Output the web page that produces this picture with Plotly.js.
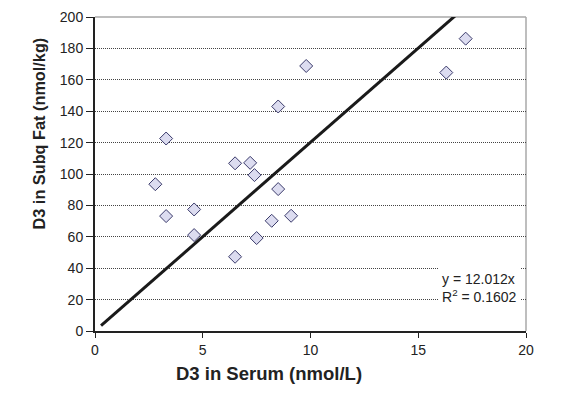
<!DOCTYPE html>
<html>
<head>
<meta charset="utf-8">
<script src="https://cdn.plot.ly/plotly-3.0.1.min.js"></script>
<style>html,body{margin:0;padding:0;background:#fff;}#chart{width:565px;height:396px;}</style>
</head>
<body>
<div id="chart"></div>
<script>
// Data
const serumD3 = [2.8, 3.3, 3.3, 4.6, 4.6, 6.5, 6.5, 7.2, 7.4, 7.5, 8.5, 8.5, 8.2, 9.1, 9.8, 16.3, 17.2];
const fatD3   = [93.5, 122.6, 73.2, 77.4, 61.1, 106.8, 47.3, 107.1, 99.3, 59.2, 143.0, 90.4, 70.2, 73.4, 168.8, 164.6, 186.2];
const trendSlope = 12.012;
const trendR2 = 0.1602;
const trendX = [0.28, 17.23];
const trendY = trendX.map(x => trendSlope * x);
const xTicks = [0, 5, 10, 15, 20];
const yTicks = [0, 20, 40, 60, 80, 100, 120, 140, 160, 180, 200];
const xTitle = 'D3 in Serum (nmol/L)';
const yTitle = 'D3 in Subq Fat (nmol/kg)';

const font = "Liberation Sans, Arial, sans-serif";

const traces = [
  {
    x: trendX, y: trendY, type: 'scatter', mode: 'lines',
    line: {color: '#1a1a1a', width: 3}, hoverinfo: 'skip', showlegend: false
  },
  {
    x: serumD3, y: fatD3, type: 'scatter', mode: 'markers',
    marker: {symbol: 'diamond', size: 10, color: '#dcdcf0', line: {color: '#3a3a6a', width: 1}},
    showlegend: false
  }
];

const layout = {
  width: 565, height: 396,
  margin: {l: 95, r: 39, t: 17, b: 65},
  paper_bgcolor: '#ffffff', plot_bgcolor: '#ffffff',
  showlegend: false,
  font: {family: font, size: 14, color: '#222'},
  xaxis: {
    range: [0, 20], tickvals: xTicks, ticktext: xTicks.map(String),
    showgrid: false, zeroline: false,
    showline: true, linecolor: '#222', linewidth: 2,
    ticks: 'outside', ticklen: 5, tickcolor: '#222', tickwidth: 1,
    tickfont: {family: font, size: 14, color: '#222'},
    automargin: false
  },
  yaxis: {
    range: [0, 200], tickvals: yTicks, ticktext: yTicks.map(String),
    showgrid: true, gridcolor: '#444', gridwidth: 1, griddash: '1px,1px',
    zeroline: false,
    showline: true, linecolor: '#222', linewidth: 2,
    ticks: 'outside', ticklen: 7, tickcolor: '#222', tickwidth: 1,
    tickfont: {family: font, size: 14, color: '#222'},
    automargin: false
  },
  shapes: [
    {type: 'line', xref: 'paper', yref: 'paper', x0: 0, x1: 1, y0: 1, y1: 1, line: {color: '#a8a8a8', width: 1.5}, layer: 'below'},
    {type: 'line', xref: 'paper', yref: 'paper', x0: 1, x1: 1, y0: 0, y1: 1, line: {color: '#a8a8a8', width: 1.5}, layer: 'below'}
  ],
  annotations: [
    {
      xref: 'x', yref: 'y', x: 19.78, y: 27.7, xanchor: 'right', yanchor: 'middle',
      text: 'y = ' + trendSlope.toFixed(3) + 'x<br>R<sup>2</sup> = ' + trendR2.toFixed(4),
      showarrow: false, align: 'left', bgcolor: '#ffffff', borderpad: 3,
      font: {family: font, size: 14, color: '#222'}
    },
    {
      xref: 'paper', yref: 'paper', x: 0.4026, y: -0.1338, xanchor: 'center', yanchor: 'middle',
      text: '<b>' + xTitle + '</b>', showarrow: false,
      font: {family: font, size: 18.5, color: '#222'}
    },
    {
      xref: 'paper', yref: 'paper', x: -0.1288, y: 0.6306, xanchor: 'center', yanchor: 'middle',
      text: '<b>' + yTitle + '</b>', showarrow: false, textangle: -90,
      font: {family: font, size: 16.3, color: '#222'}
    }
  ]
};

Plotly.newPlot('chart', traces, layout, {displayModeBar: false, staticPlot: true});
</script>
</body>
</html>
